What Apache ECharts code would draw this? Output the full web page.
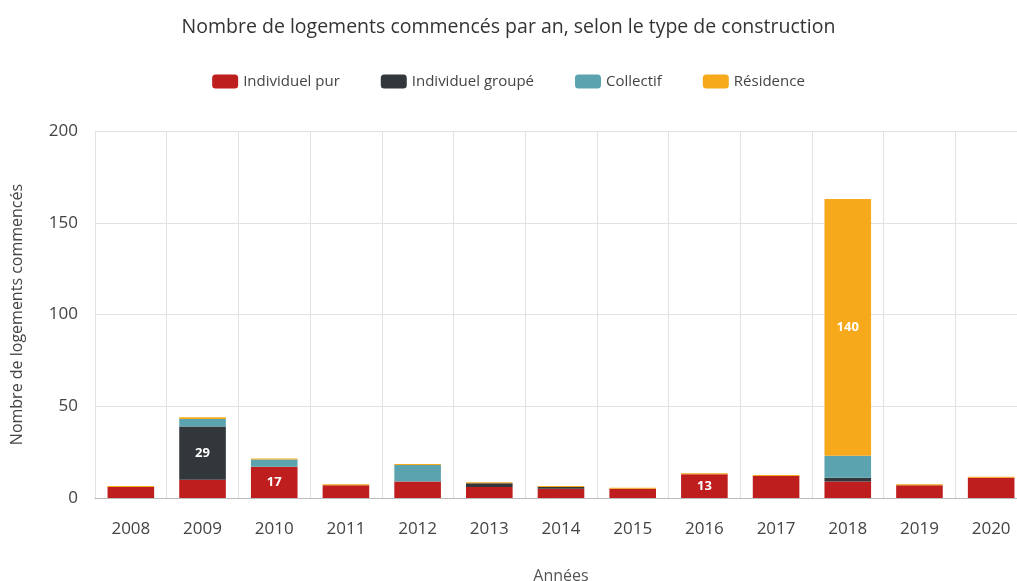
<!DOCTYPE html>
<html>
<head>
<meta charset="utf-8">
<script src="https://cdn.jsdelivr.net/npm/echarts@6/dist/echarts.min.js"></script>
<style>
  html, body { margin: 0; padding: 0; background: #fff; }
  #chart { width: 1017px; height: 581px; }
</style>
</head>
<body>
<div id="chart"></div>
<script>
// data
const years = ['2008', '2009', '2010', '2011', '2012', '2013', '2014', '2015', '2016', '2017', '2018', '2019', '2020']
const individuelPur = [6, 10, 17, 7, 9, 6, 5, 5, 13, 12, 9, 7, 11]
const individuelGroupe = [0, 29, 0, 0, 0, 2, 1, 0, 0, 0, 2, 0, 0]
const collectif = [0, 4, 4, 0, 9, 0, 0, 0, 0, 0, 12, 0, 0]
const residence = [0, 1, 0, 0, 0, 0, 0, 0, 0, 0, 140, 0, 0]
const yTicks = [0, 50, 100, 150, 200]

const font = 'Open Sans'
const colors = ['#BE1E1E', '#31373B', '#5BA3AE', '#F5A91B']

let chart = echarts.init(document.getElementById('chart'))

function makeSeries(name, data, color, minH) {
  return {
    name: name,
    type: 'bar',
    stack: 'total',
    data: data,
    barWidth: '65%',
    barMinHeight: minH,
    itemStyle: { color: color },
    label: {
      show: true,
      color: '#fff',
      fontFamily: font,
      fontWeight: 'bold',
      fontSize: 13,
      formatter: p => (p.value >= 13 ? p.value : '')
    }
  }
}

let option = {
  animation: false,
  color: colors,
  title: {
    text: 'Nombre de logements commencés par an, selon le type de construction',
    left: 'center',
    top: 12,
    textStyle: { fontFamily: font, fontSize: 19.5, fontWeight: 'normal', color: '#333' }
  },
  legend: {
    top: 69,
    left: 'center',
    icon: 'roundRect',
    itemWidth: 26,
    itemHeight: 14,
    itemGap: 41,
    textStyle: { fontFamily: font, fontSize: 15, color: '#444' },
    data: ['Individuel pur', 'Individuel groupé', 'Collectif', 'Résidence']
  },
  grid: {
    left: 95,
    width: 932,
    top: 131,
    bottom: 83,
    outerBoundsMode: 'none'
  },
  xAxis: {
    type: 'category',
    data: years,
    name: 'Années',
    nameLocation: 'middle',
    nameGap: 70,
    nameTextStyle: { fontFamily: font, fontSize: 16, color: '#555' },
    axisLine: { lineStyle: { color: '#bbb' } },
    axisTick: { alignWithLabel: true, length: 5, lineStyle: { color: '#bbb' } },
    axisLabel: { fontFamily: font, fontSize: 17, color: '#444', margin: 23 },
    splitLine: { show: true, lineStyle: { color: '#e2e2e2' } }
  },
  yAxis: {
    type: 'value',
    min: yTicks[0],
    max: yTicks[yTicks.length - 1],
    interval: 50,
    name: 'Nombre de logements commencés',
    nameLocation: 'middle',
    nameGap: 70,
    nameTextStyle: { fontFamily: font, fontSize: 16, color: '#444' },
    axisLine: { show: false },
    axisTick: { show: false },
    axisLabel: { fontFamily: font, fontSize: 17, color: '#444', margin: 17 },
    splitLine: { lineStyle: { color: '#e2e2e2' } }
  },
  series: [
    makeSeries('Individuel pur', individuelPur, colors[0], 0),
    makeSeries('Individuel groupé', individuelGroupe, colors[1], 0),
    makeSeries('Collectif', collectif, colors[2], 0),
    makeSeries('Résidence', residence, colors[3], 1)
  ]
}

chart.setOption(option)
</script>
</body>
</html>
